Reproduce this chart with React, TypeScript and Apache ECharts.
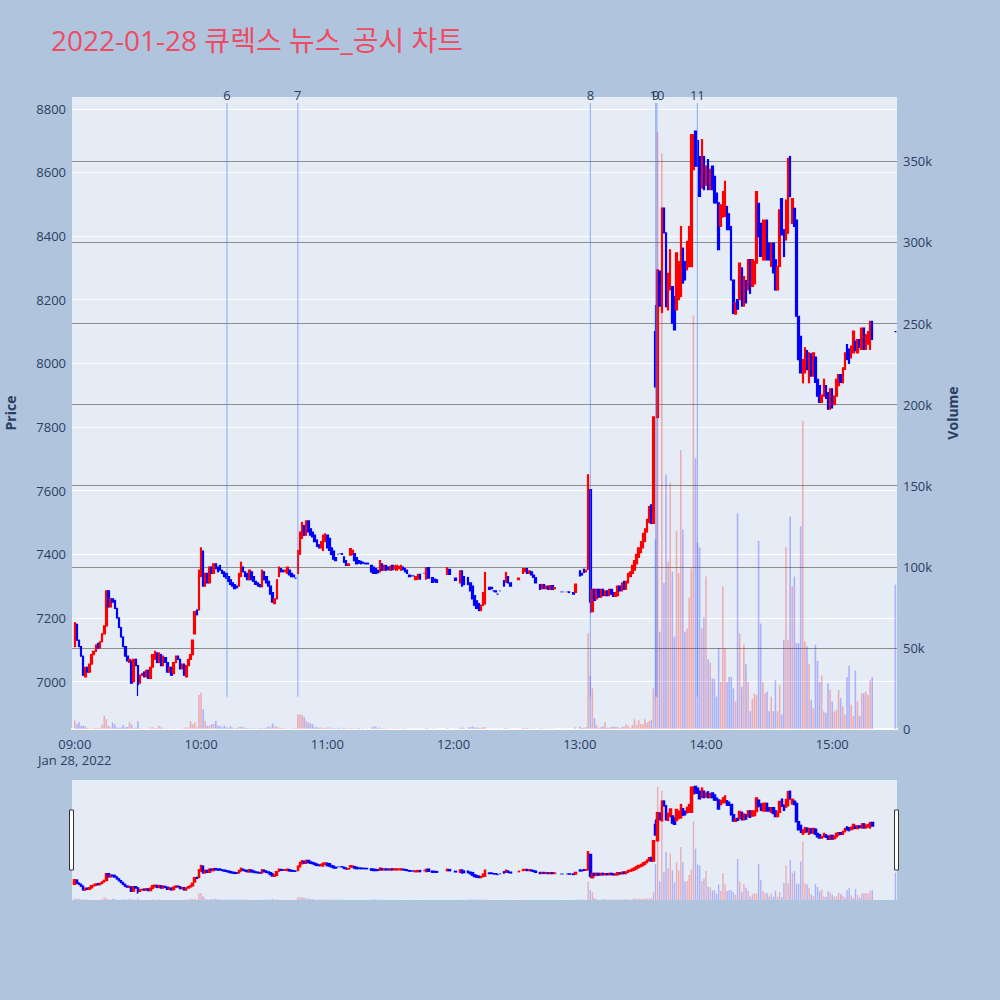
import React, { useEffect, useRef } from "react";
import * as echarts from "echarts";

const TITLE = "2022-01-28 큐렉스 뉴스_공시 차트";
const START = Date.UTC(2022, 0, 28, 9, 0, 0);
const MINUTE = 60000;

// [open, close] per minute from 09:00 (index = minutes after 09:00); null = no trade
const candles: ([number, number] | null)[] = [
  [7110,7185],[7180,7130],[7130,7110],[7110,7080],[7080,7020],[7015,7045],[7045,7030],[7030,7055],[7055,7085],[7085,7095],
  [7095,7115],[7120,7105],[7105,7125],[7125,7150],[7150,7175],[7175,7285],[7285,7235],[7235,7260],[7260,7250],[7255,7230],
  [7230,7200],[7200,7170],[7170,7140],[7140,7110],[7110,7080],[7080,7065],[7060,7070],[7065,6995],[7000,7070],[7070,7050],
  [7050,6990],[6995,7020],[7020,7025],[7030,7015],[7015,7035],[7035,7010],[7010,7045],[7045,7085],[7070,7095],[7090,7060],
  [7060,7090],[7085,7050],[7050,7080],[7075,7060],[7060,7030],[7030,7045],[7045,7020],[7025,7060],[7060,7080],[7080,7070],
  [7070,7040],[7040,7055],[7055,7020],[7015,7050],[7050,7070],[7070,7085],[7085,7130],[7150,7220],[7225,7210],[7225,7350],
  [7330,7420],[7410,7300],[7300,7340],[7340,7310],[7310,7360],[7360,7340],[7340,7370],[7370,7355],[7360,7345],[7365,7350],
  [7350,7340],[7345,7330],[7340,7325],[7330,7315],[7320,7305],[7310,7300],[7305,7292],[7300,7295],[7300,7340],[7330,7375],
  [7360,7345],[7345,7330],[7340,7320],[7320,7350],[7345,7320],[7330,7315],[7315,7305],[7310,7300],[7305,7298],[7298,7350],
  [7345,7320],[7330,7310],[7315,7300],[7300,7275],[7280,7250],[7245,7260],[7260,7320],[7330,7360],[7355,7345],[7350,7345],
  [7345,7350],[7340,7360],[7350,7335],[7340,7330],[7335,7330],[7325,7325],[7340,7412],[7400,7470],[7450,7500],[7490,7460],
  [7460,7505],[7505,7470],[7480,7460],[7470,7455],[7460,7440],[7445,7425],[7430,7420],[7420,7440],[7412,7460],[7440,7464],
  [7460,7420],[7450,7412],[7420,7400],[7410,7385],[7390,7380],[7400,7400],[7402,7402],[7402,7400],[7392,7375],[7380,7365],
  [7365,7370],[7397,7418],[7400,7412],[7402,7380],[7390,7370],[7380,7372],[7378,7370],[7375,7372],[7372,7370],[7372,7370],
  null,[7365,7345],[7360,7340],[7355,7340],[7350,7342],[7345,7380],[7370,7350],[7350,7365],[7365,7350],[7360,7352],
  [7350,7362],[7365,7352],[7355,7362],[7350,7365],[7355,7362],[7350,7365],[7360,7352],[7355,7345],[7350,7340],[7335,7330],
  [7332,7332],[7332,7332],[7320,7330],[7322,7337],[7337,7322],null,[7340,7340],[7322,7358],[7358,7325],null,
  [7327,7312],[7322,7315],[7320,7312],null,null,null,null,[7337,7358],[7353,7337],null,
  null,[7325,7318],null,[7310,7348],[7348,7300],[7330,7305],null,[7327,7305],[7310,7285],[7300,7260],
  [7270,7240],[7254,7230],[7245,7223],[7223,7240],[7239,7280],[7244,7343],null,[7296,7290],[7296,7292],[7285,7285],
  [7285,7282],[7275,7275],[7285,7285],null,[7317,7300],[7312,7343],[7330,7310],[7310,7300],null,null,
  null,[7320,7325],null,[7340,7355],[7345,7355],[7355,7340],[7340,7348],[7345,7335],[7335,7327],[7327,7310],
  null,[7305,7290],[7292,7305],[7305,7292],[7292,7300],[7300,7290],[7290,7302],[7302,7290],[7292,7295],null,
  null,[7282,7282],[7282,7282],null,[7282,7282],[7282,7280],null,[7280,7275],[7280,7306],null,
  [7348,7332],[7340,7335],[7353,7343],[7345,7350],[7353,7650],[7603,7250],[7220,7290],[7290,7255],[7260,7290],[7290,7265],
  [7265,7290],[7290,7270],[7270,7285],[7285,7270],[7270,7290],[7290,7275],[7280,7268],[7268,7280],[7270,7300],[7300,7285],
  [7285,7310],[7315,7290],[7290,7315],[7310,7340],[7330,7345],[7340,7365],[7350,7380],[7370,7400],[7390,7420],[7405,7440],
  [7420,7466],[7440,7480],[7470,7510],[7500,7550],[7555,7497],[7497,7832],[8100,7926],[7830,8294],[8290,8180],[8160,8488],
  [8488,8410],[8410,8178],[8168,8283],[8231,8357],[8241,8126],[8210,8105],[8168,8347],[8200,8320],[8210,8430],[8362,8252],
  [8320,8262],[8294,8383],[8304,8430],[8304,8719],[8609,8719],[8730,8620],[8700,8620],[8650,8525],[8551,8703],[8650,8546],
  [8560,8620],[8640,8546],[8546,8610],[8620,8546],[8588,8504],[8535,8504],[8504,8357],[8430,8498],[8460,8540],[8462,8572],
  [8493,8420],[8470,8420],[8430,8262],[8262,8157],[8155,8190],[8200,8170],[8200,8315],[8300,8180],[8180,8273],[8260,8190],
  [8231,8326],[8326,8220],[8242,8326],[8250,8320],[8315,8540],[8503,8398],[8440,8336],[8325,8450],[8325,8450],[8450,8325],
  [8378,8325],[8305,8378],[8378,8284],[8325,8231],[8231,8305],[8305,8482],[8518,8404],[8420,8336],[8388,8513],[8409,8644],
  [8650,8524],[8440,8518],[8487,8430],[8450,8148],[8148,8012],[8085,7970],[7939,8012],[7970,8049],[8040,7980],[7939,8033],
  [8030,7960],[7960,8033],[8020,7940],[7950,7897],[7930,7877],[7877,7900],[7897,7950],[7930,7890],[7908,7856],[7856,7920],
  [7920,7860],[7870,7897],[7897,7950],[7930,7965],[7965,7940],[7939,7986],[7981,8033],[8059,8012],[8045,8000],[8017,8054],
  [8033,8101],[8070,8040],[8033,8075],[8075,8050],[8044,8111],[8111,8044],[8044,8090],[8060,8100],[8044,8132],[8132,8075],
];

// extra wicks: minute -> [low, high]
const wicks: Record<number, [number, number]> = {
  30: [6955, 7050],
  244: [7350, 7650],
  245: [7215, 7603],
  276: [7926, 8183],
  277: [7827, 8294],
};

// volume per minute from 09:00
const volumes: number[] = [
  5200,3000,4100,2000,2000,1800,600,400,300,500,
  600,400,800,2800,8200,6000,1800,1000,4000,2800,
  1000,800,1000,2500,1000,1200,4100,2800,600,800,
  5000,300,300,400,200,300,1000,1200,500,400,
  2000,1000,500,300,300,200,300,400,300,200,
  400,300,600,1000,800,4800,2800,4000,1000,21000,
  22500,12400,5000,2000,2000,3000,3000,5000,2000,1800,
  1000,2000,1200,600,1800,800,400,600,1300,1500,
  1200,500,600,400,500,300,400,300,600,700,
  400,800,1500,1000,3500,1500,1600,800,600,400,
  400,300,300,300,400,500,9000,9000,8800,7600,
  5000,4000,3500,3000,1000,1200,800,1000,600,800,
  800,1000,400,600,300,800,500,300,700,400,
  300,600,500,300,400,600,300,500,200,300,
  0,800,1600,1500,600,900,400,300,500,300,
  200,400,300,500,300,200,400,300,200,100,
  100,100,300,200,200,0,100,600,400,0,
  300,200,200,0,0,0,0,500,300,0,
  0,200,0,700,900,400,0,800,1200,1500,
  1000,900,700,600,900,1200,0,200,100,200,
  100,100,100,0,400,600,300,200,0,0,
  0,200,0,700,500,400,300,300,200,400,
  0,500,400,300,300,200,300,200,200,0,
  0,100,100,0,100,100,0,300,1200,0,
  1500,600,800,1200,59000,32700,25000,6600,2500,800,
  1200,1600,4300,800,800,1200,1600,1200,1400,600,
  1200,1400,2900,2000,800,2500,6000,2500,5400,3000,
  3000,6000,4000,5000,5500,25000,117000,368000,60000,355000,
  90000,157000,103000,152000,97000,57000,122000,96000,172000,123000,
  60000,62000,81000,99000,255000,167000,115000,112000,62000,69000,
  94000,43000,41000,31000,31000,20000,50000,29000,88000,50000,
  29000,32000,32000,25000,17000,133000,59000,26000,52000,40000,
  29000,11000,18500,22000,21000,116000,65000,29000,22000,23000,
  11000,20000,11000,30000,11000,27000,9000,55000,112000,55000,
  131000,88000,94000,53000,53000,125000,190000,54000,51000,40000,
  18000,13000,52000,42000,29000,33000,11000,10000,28000,24000,
  17000,11000,12000,24000,19000,14000,9000,32000,39000,15000,
  8000,36000,17000,8000,22000,22000,23000,21000,30000,32000,
];

// closing auction at 15:30
const auctionMinute = 390;
const auctionPrice = 8100;
const auctionVolume = 89000;

// news / disclosure markers (minutes after 09:00) and their labels
const newsMinutes = [72.33, 106.0, 245.05, 276.1, 276.7, 295.9];
const newsLabels = ["6", "7", "8", "9", "10", "11"];

const PRICE_MIN = 6851;
const PRICE_MAX = 8837;
const VOL_MAX = 389700;
const X_MIN_MIN = -0.95;
const X_MAX_MIN = 390.4;
const NEWS_LOW = 6952;
const NEWS_HIGH = 8818;

const UP = "#FF0000";
const DOWN = "#0000FF";
const UP_VOL = "rgba(255,0,0,0.27)";
const DOWN_VOL = "rgba(0,0,255,0.25)";
const FONT = '"Open Sans", verdana, arial, sans-serif';
const TXT = "#2a3f5f";

const t = (m: number) => START + m * MINUTE;

function buildData() {
  const candleData: any[] = [];
  const volData: any[] = [];
  const pushCandle = (m: number, o: number, c: number, vol: number) => {
    const w = wicks[m];
    const lo = w ? w[0] : Math.min(o, c);
    const hi = w ? w[1] : Math.max(o, c);
    const up = c > o;
    const col = up ? UP : DOWN;
    candleData.push({
      value: [t(m), o, c, lo, hi],
      itemStyle: { color: col, color0: col, borderColor: col, borderColor0: col },
    });
    if (vol > 0) {
      volData.push({ value: [t(m), vol], itemStyle: { color: up ? UP_VOL : DOWN_VOL } });
    }
  };
  candles.forEach((cd, m) => {
    if (!cd) return;
    pushCandle(m, cd[0], cd[1], volumes[m] || 0);
  });
  pushCandle(auctionMinute, auctionPrice, auctionPrice, auctionVolume);
  return { candleData, volData };
}

export default function App() {
  const ref = useRef<HTMLDivElement>(null);

  useEffect(() => {
    if (!ref.current) return;
    const chart = echarts.init(ref.current, null, { renderer: "svg" });
    const { candleData, volData } = buildData();

    const newsSeries = newsMinutes.map((m, i) => ({
      type: "line",
      xAxisIndex: 0,
      yAxisIndex: 0,
      silent: true,
      symbol: "circle",
      symbolSize: 0.1,
      z: 5,
      lineStyle: { color: "rgba(80,120,250,0.5)", width: 1.2 },
      itemStyle: { color: "rgba(80,120,250,0.5)" },
      data: [
        [t(m), NEWS_LOW],
        {
          value: [t(m), NEWS_HIGH],
          label: {
            show: true,
            position: "top",
            distance: 1,
            formatter: newsLabels[i],
            color: TXT,
            fontSize: 13,
            fontFamily: FONT,
          },
        },
      ],
    }));

    const xLabel = (v: number) => {
      const d = new Date(v);
      const hh = String(d.getUTCHours()).padStart(2, "0");
      const mm = String(d.getUTCMinutes()).padStart(2, "0");
      const s = hh + ":" + mm;
      return hh === "09" && mm === "00" ? s + "\nJan 28, 2022" : s;
    };

    const option: any = {
      animation: false,
      useUTC: true,
      backgroundColor: "#B0C4DE",
      textStyle: { fontFamily: FONT },
      title: {
        text: TITLE,
        left: 46,
        top: 21,
        textStyle: {
          fontSize: 28,
          fontWeight: "normal",
          color: "#EC4C64",
          fontFamily: '"Open Sans", "Noto Sans CJK KR", sans-serif',
        },
      },
      grid: [
        {
          left: 72, right: 103, top: 97, bottom: 271, show: true, backgroundColor: "#E5ECF6", borderWidth: 0,
          containLabel: false, outerBoundsMode: "none",
        },
        {
          left: 72, right: 103, top: 780, bottom: 100, show: true, backgroundColor: "#E5ECF6", borderWidth: 0,
          containLabel: false, outerBoundsMode: "none",
        },
      ],
      xAxis: [
        {
          type: "time",
          gridIndex: 0,
          min: t(X_MIN_MIN),
          max: t(X_MAX_MIN),
          minInterval: 3600000,
          maxInterval: 3600000,
          axisLine: { show: true, lineStyle: { color: "#ffffff", width: 2 } },
          axisTick: { show: false },
          splitLine: { show: false },
          axisLabel: {
            formatter: xLabel,
            color: TXT,
            fontSize: 13,
            fontFamily: FONT,
            margin: 7,
            lineHeight: 16,
            showMinLabel: false,
            showMaxLabel: false,
            hideOverlap: false,
          },
        },
        {
          type: "time",
          gridIndex: 1,
          min: t(X_MIN_MIN),
          max: t(X_MAX_MIN),
          show: false,
        },
      ],
      yAxis: [
        {
          type: "value",
          gridIndex: 0,
          position: "left",
          min: PRICE_MIN,
          max: PRICE_MAX,
          splitNumber: 10,
          name: "Price",
          nameLocation: "middle",
          nameGap: 55,
          nameTextStyle: { color: TXT, fontSize: 14, fontWeight: "bold", fontFamily: FONT },
          axisLine: { show: false },
          axisTick: { show: false },
          axisLabel: {
            color: TXT,
            fontSize: 13,
            fontFamily: FONT,
            margin: 6,
            showMinLabel: false,
            showMaxLabel: false,
            formatter: (v: number) => String(v),
          },
          splitLine: { show: true, showMinLine: false, showMaxLine: false, lineStyle: { color: "#ffffff", width: 1 } },
        },
        {
          type: "value",
          gridIndex: 0,
          position: "right",
          min: 0,
          max: VOL_MAX,
          interval: 50000,
          name: "Volume",
          nameLocation: "middle",
          nameGap: 48,
          nameTextStyle: { color: TXT, fontSize: 14, fontWeight: "bold", fontFamily: FONT },
          axisLine: { show: false },
          axisTick: { show: false },
          axisLabel: {
            color: TXT,
            fontSize: 13,
            fontFamily: FONT,
            margin: 6,
            showMaxLabel: false,
            formatter: (v: number) => (v === 0 ? "0" : v / 1000 + "k"),
          },
          splitLine: { show: true, showMinLine: false, showMaxLine: false, lineStyle: { color: "#8c8c8c", width: 1 } },
        },
        { type: "value", gridIndex: 1, min: PRICE_MIN, max: PRICE_MAX, show: false, splitLine: { show: false } },
        { type: "value", gridIndex: 1, min: 0, max: VOL_MAX, show: false, splitLine: { show: false } },
      ],
      series: [
        {
          type: "candlestick",
          xAxisIndex: 0,
          yAxisIndex: 0,
          barWidth: 2,
          encode: { x: 0, y: [1, 2, 3, 4] },
          itemStyle: { color: UP, color0: DOWN, borderColor: UP, borderColor0: DOWN, borderWidth: 1.2 },
          data: candleData,
          z: 2,
        },
        {
          type: "bar",
          xAxisIndex: 0,
          yAxisIndex: 1,
          barWidth: 1.6,
          data: volData,
          z: 3,
        },
        ...newsSeries,
        {
          type: "candlestick",
          xAxisIndex: 1,
          yAxisIndex: 2,
          barWidth: 2,
          encode: { x: 0, y: [1, 2, 3, 4] },
          itemStyle: { color: UP, color0: DOWN, borderColor: UP, borderColor0: DOWN, borderWidth: 1.5 },
          data: candleData,
          z: 2,
        },
        {
          type: "bar",
          xAxisIndex: 1,
          yAxisIndex: 3,
          barWidth: 1.4,
          data: volData,
          z: 3,
        },
      ],
      graphic: [
        { type: "rect", shape: { x: 69.5, y: 810, width: 4, height: 60 }, style: { fill: "#ffffff", stroke: "#333333", lineWidth: 1 }, z: 10 },
        { type: "rect", shape: { x: 894.5, y: 810, width: 4, height: 60 }, style: { fill: "#ffffff", stroke: "#333333", lineWidth: 1 }, z: 10 },
      ],
    };

    chart.setOption(option);
    return () => chart.dispose();
  }, []);

  return (
    <div
      ref={ref}
      style={{ position: "absolute", left: 0, top: 0, width: 1000, height: 1000, background: "#B0C4DE" }}
    />
  );
}
